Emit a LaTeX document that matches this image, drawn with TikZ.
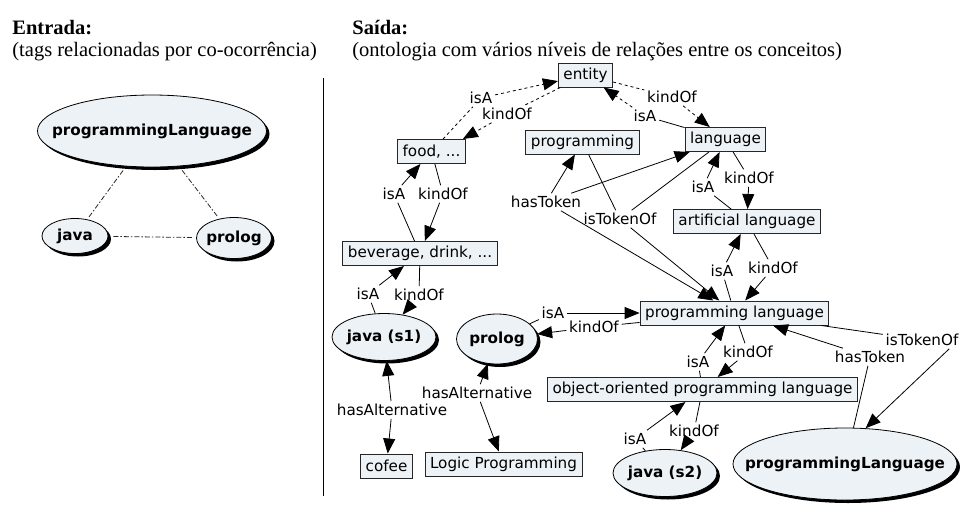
\documentclass[tikz,border=0pt]{standalone}
\usepackage{fontspec}
\setmainfont{Liberation Serif}
\newfontfamily\cmapfont{DejaVu Sans}
\usetikzlibrary{shapes.geometric,arrows.meta,shadows}
\definecolor{cfill}{HTML}{ECF2F6}
\newcommand\tagtext[1]{\makebox[0pt]{#1}}

\begin{document}
\begin{tikzpicture}[x=1pt, y=-1pt, line width=0.8pt,
    >={Triangle[length=15pt,width=12pt]},
    concept/.style={draw=black!85, line width=1pt, fill=cfill, minimum height=24pt, inner xsep=5pt, font=\cmapfont\fontsize{15.2}{18}\selectfont},
    tagell/.style={ellipse, draw, fill=cfill, inner sep=0pt, font=\cmapfont\fontsize{15.2}{18}\selectfont\bfseries, drop shadow={shadow xshift=3pt, shadow yshift=-3pt, fill=black, opacity=1}},
    rel/.style={inner sep=2.5pt, font=\cmapfont\fontsize{15.2}{18}\selectfont},
    title/.style={inner sep=0pt, anchor=base west, font=\fontsize{20.5}{24}\selectfont},
    cooc/.style={draw=black!85, dash pattern=on 5pt off 2pt on 1.5pt off 2pt, shorten <=5pt, shorten >=3pt}]
    \useasboundingbox (0,0) rectangle (964,504);

    \node(intitle)[title] at (12,34) {\textbf{Entrada:}};
    \node(insub)[title] at (12,56) {(tags relacionadas por co-ocorrência)};
    \node(outtitle)[title] at (352,34) {\textbf{Saída:}};
    \node(outsub)[title] at (352,56) {(ontologia com vários níveis de relações entre os conceitos)};
    \draw (323,78) -- (323,496);

    \node(pltag)[tagell, minimum width=229pt, minimum height=72pt] at (152,131) {\tagtext{programmingLanguage}};
    \node(javatag)[tagell, minimum width=66pt, minimum height=35pt] at (75,236) {\tagtext{java}};
    \node(prologtag)[tagell, minimum width=75pt, minimum height=41pt] at (234,238) {\tagtext{prolog}};
    \draw[cooc] (pltag) -- (javatag);
    \draw[cooc] (pltag) -- (prologtag);
    \draw[cooc] (javatag) -- (prologtag);

    \node(ent)[concept] at (585.5,75) {entity};
    \node(food)[concept] at (431.5,151.5) {food, ...};
    \node(prog)[concept] at (582.5,142) {programming};
    \node(lang)[concept] at (725.5,139.5) {language};
    \node(art)[concept] at (747,221.5) {artificial language};
    \node(bev)[concept] at (420,253.5) {beverage, drink, ...};
    \node(pl)[concept] at (734.5,313) {programming language};
    \node(oopl)[concept] at (702.5,389.5) {object-oriented programming language};
    \node(cofee)[concept] at (386.5,466) {cofee};
    \node(lp)[concept] at (503.5,464) {Logic Programming};
    \node(java1)[tagell, minimum width=104pt, minimum height=47pt] at (384,337) {\tagtext{java (s1)}};
    \node(prolog)[tagell, minimum width=81pt, minimum height=50pt] at (497,339) {\tagtext{prolog}};
    \node(java2)[tagell, minimum width=104pt, minimum height=47pt] at (665,473) {\tagtext{java (s2)}};
    \node(pltag2)[tagell, minimum width=224pt, minimum height=72pt] at (845,464) {\tagtext{programmingLanguage}};

    \node(isa1)[rel] at (481,98) {isA};
    \node(ko1)[rel] at (507,114) {kindOf};
    \node(ko2)[rel] at (672,97) {kindOf};
    \node(isa2)[rel] at (645,116) {isA};
    \node(isa3)[rel] at (703,187) {isA};
    \node(ko3)[rel] at (749,178) {kindOf};
    \node(isa4)[rel] at (722,271) {isA};
    \node(ko4)[rel] at (773,268) {kindOf};
    \node(isa5)[rel] at (553,313) {isA};
    \node(ko5)[rel] at (594,327) {kindOf};
    \node(isa6)[rel] at (394,194) {isA};
    \node(ko6)[rel] at (443,194) {kindOf};
    \node(isa7)[rel] at (368,294) {isA};
    \node(ko7)[rel] at (419,295) {kindOf};
    \node(alt1)[rel] at (392,410) {hasAlternative};
    \node(alt2)[rel] at (477,393) {hasAlternative};
    \node(isa8)[rel] at (698,362) {isA};
    \node(ko8)[rel] at (748,352) {kindOf};
    \node(isa9)[rel] at (635,439) {isA};
    \node(ko9)[rel] at (694,431) {kindOf};
    \node(tokof1)[rel] at (922,340) {isTokenOf};
    \node(hastok1)[rel] at (870,357) {hasToken};
    \node(hastok2)[rel] at (546,202) {hasToken};
    \node(tokof2)[rel] at (620,219) {isTokenOf};

    \draw[dashed] (food) -- (isa1);
    \draw[dashed,->] (isa1) -- (ent);
    \draw[dashed] (ent) -- (ko1);
    \draw[dashed,->] (ko1) -- ([xshift=-3pt]food.north east);
    \draw[dashed] (ent) -- (ko2);
    \draw[dashed,->] (ko2) -- (lang);
    \draw (lang) -- (isa2);
    \draw[dashed,->] (isa2) -- (ent);
    \draw (art) -- (isa3);
    \draw[->] (isa3) -- (lang);
    \draw (lang) -- (ko3);
    \draw[->] (ko3) -- (art);
    \draw (pl) -- (isa4);
    \draw[->] (isa4) -- (art);
    \draw (art) -- (ko4);
    \draw[->] (ko4) -- (pl);
    \draw (prolog) -- (isa5);
    \draw[->] (isa5) -- (pl);
    \draw (pl) -- (ko5);
    \draw[->] (ko5) -- (prolog);
    \draw (bev) -- (isa6);
    \draw[->] (isa6) -- (food);
    \draw (food) -- (ko6);
    \draw[->] (ko6) -- (bev);
    \draw (java1) -- (isa7);
    \draw[->] (isa7) -- (bev);
    \draw (bev) -- (ko7);
    \draw[->] (ko7) -- (java1);
    \draw[->] (alt1) -- (java1);
    \draw[->] (alt1) -- (cofee);
    \draw[->] (alt2) -- (prolog);
    \draw[->] (alt2) -- (lp);
    \draw (oopl) -- (isa8);
    \draw[->] (isa8) -- (pl);
    \draw (pl) -- (ko8);
    \draw[->] (ko8) -- (oopl);
    \draw (java2) -- (isa9);
    \draw[->] (isa9) -- (oopl);
    \draw (oopl) -- (ko9);
    \draw[->] (ko9) -- (java2);
    \draw (pl) -- (tokof1);
    \draw[->] ([xshift=-12pt]tokof1.south east) -- (pltag2.60);
    \draw (pltag2) -- (hastok1);
    \draw[->] (hastok1) -- (pl);
    \draw[->] (hastok2) -- (pl);
    \draw[->] (hastok2) -- (prog);
    \draw[->] (hastok2) -- (lang);
    \draw (prog) -- (tokof2);
    \draw (lang) -- (tokof2);
    \draw[->] (tokof2) -- (pl);
\end{tikzpicture}
\end{document}
